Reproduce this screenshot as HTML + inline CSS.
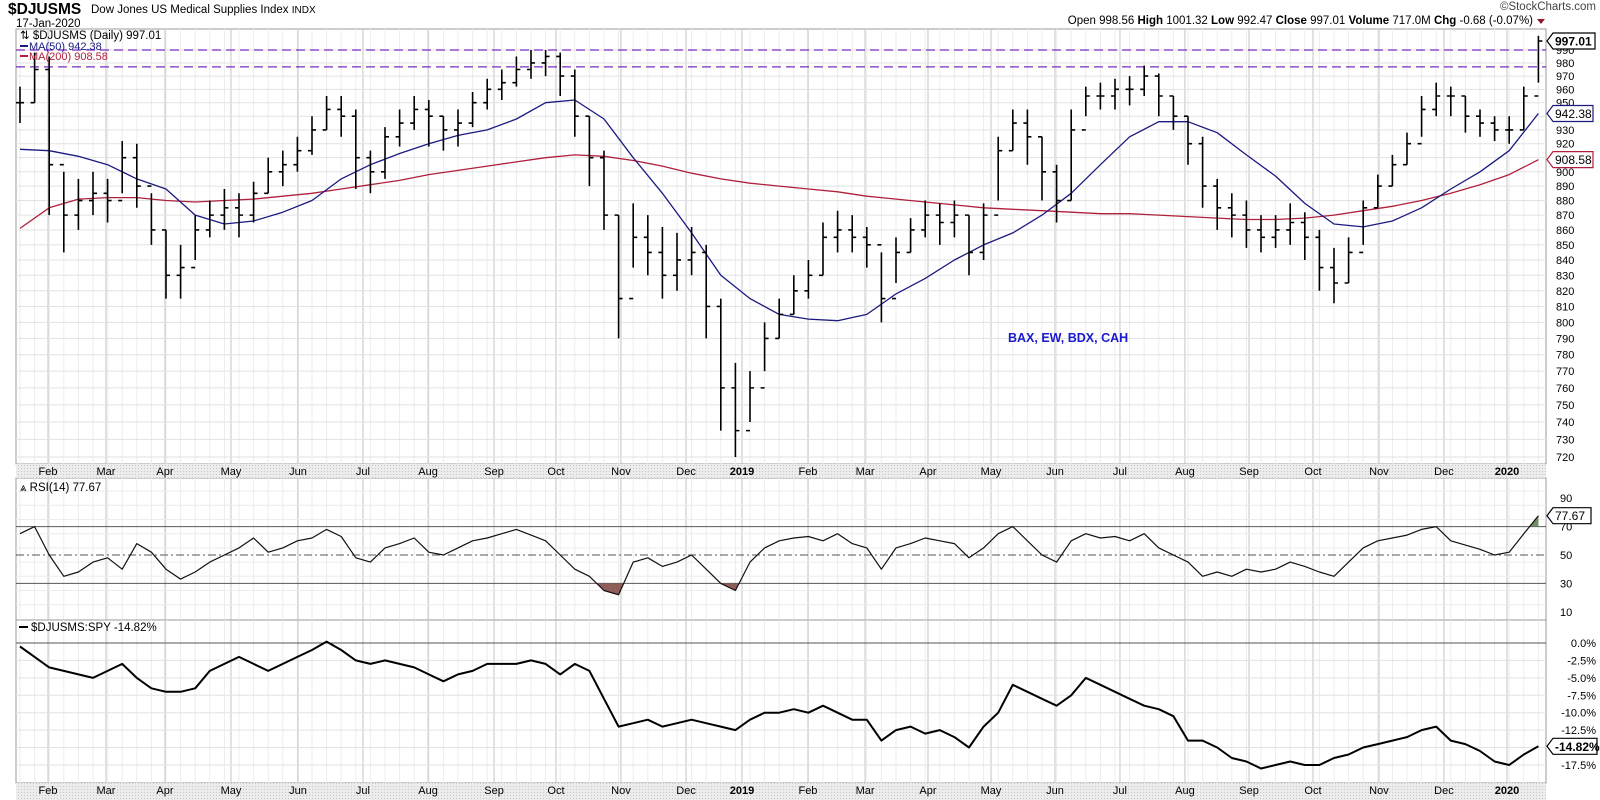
<!DOCTYPE html>
<html><head><meta charset="utf-8">
<style>
html,body{margin:0;padding:0;background:#fff;}
svg{display:block;font-family:"Liberation Sans",Arial,sans-serif;}
</style></head>
<body>
<svg id="chart" width="1600" height="800" viewBox="0 0 1600 800" xmlns="http://www.w3.org/2000/svg">
<defs>
<pattern id="hatch" width="3" height="3" patternUnits="userSpaceOnUse">
<rect width="3" height="3" fill="#ececec"/><rect width="1" height="1" fill="#c8c8c8"/>
</pattern>
</defs>
<text x="8" y="14" font-size="15.5" font-weight="bold">$DJUSMS</text>
<text x="91" y="13" font-size="11.5">Dow Jones US Medical Supplies Index <tspan font-size="10">INDX</tspan></text>
<text x="16" y="27" font-size="11.5">17-Jan-2020</text>
<text x="1596" y="10" font-size="11.5" fill="#444" text-anchor="end">©StockCharts.com</text>
<text x="1533" y="24" font-size="11.5" text-anchor="end">Open 998.56  <tspan font-weight="bold">High</tspan> 1001.32  <tspan font-weight="bold">Low</tspan> 992.47  <tspan font-weight="bold">Close</tspan> 997.01  <tspan font-weight="bold">Volume</tspan> 717.0M  <tspan font-weight="bold">Chg</tspan> -0.68 (-0.07%)</text>
<path d="M1537 19 L1545 19 L1541 24 Z" fill="#8b1a2b"/>
<g id="g"></g>
</svg>
<script>
const closes=[950,975,905,870,880,885,880,910,890,860,830,835,860,870,875,870,885,900,905,915,930,945,940,910,900,925,935,945,940,930,935,950,960,965,975,980,985,970,940,910,870,815,855,845,830,840,845,810,760,735,760,790,805,820,830,855,860,855,850,815,845,860,870,865,870,845,870,915,935,925,900,880,930,955,955,960,960,970,955,940,920,890,875,870,860,855,860,865,855,835,825,845,875,890,905,920,945,955,955,940,935,930,930,955,997];
const highs=[962,988,985,900,895,900,895,922,920,885,860,850,870,880,888,885,893,910,915,925,940,955,955,945,915,932,945,955,952,940,945,958,968,975,985,990,990,988,975,940,915,870,878,870,862,858,862,850,815,775,770,800,815,830,840,865,873,870,862,845,855,868,880,878,880,870,878,925,945,945,925,905,945,962,965,968,970,978,972,955,940,925,895,885,880,870,870,878,872,860,848,855,880,898,912,928,955,965,962,955,945,940,940,962,1001];
const lows=[935,950,870,845,860,870,865,885,875,850,815,815,840,855,860,855,865,885,890,900,912,930,925,888,885,895,918,930,918,915,918,932,945,952,962,968,970,955,925,890,860,790,835,830,815,820,830,790,735,720,740,770,790,805,815,830,845,845,835,800,825,845,855,850,855,830,840,880,915,905,880,865,880,940,945,945,948,955,940,930,905,875,860,855,848,845,848,850,840,820,812,825,850,875,890,905,925,940,940,928,925,922,920,930,965];
const ma50=[916,915,911,905,895,888,870,864,866,872,880,895,905,913,920,926,930,938,950,952,938,910,885,858,830,815,805,802,801,805,818,828,840,850,858,870,885,905,925,936,936,928,912,897,878,864,862,866,875,888,900,915,942];
const ma200=[861,875,881,882,882,880,879,880,881,883,885,888,891,894,898,901,904,907,910,912,911,908,904,899,895,892,890,888,886,883,881,879,877,875,874,873,872,871,871,870,869,868,867,867,868,870,873,876,880,885,891,898,908.6];
const rsi=[65,70,50,35,38,45,48,40,58,52,40,33,38,45,50,55,62,52,55,60,62,68,63,48,45,55,58,62,52,50,55,60,62,65,68,64,60,50,40,35,25,22,45,48,42,45,50,40,30,25,45,55,60,62,63,60,65,58,55,40,55,58,62,60,58,48,55,65,70,60,50,45,60,65,62,63,60,65,55,50,45,35,38,35,40,38,40,45,42,38,35,45,55,60,62,64,68,70,60,57,54,50,52,65,77.67];
const ratio=[-0.5,-2,-3.5,-4,-4.5,-5,-4,-3,-5,-6.5,-7,-7,-6.5,-4,-3,-2,-3,-4,-3,-2,-1,0.2,-1,-2.5,-3,-2.5,-3,-3.5,-4.5,-5.5,-4.5,-4,-3,-3,-3,-2.5,-3,-4.5,-3,-4,-8,-12,-11.5,-11,-12,-11.5,-11,-11.5,-12,-12.5,-11,-10,-10,-9.5,-10,-9,-10,-11,-11,-14,-12.5,-12,-13,-12.5,-13.5,-15,-12,-10,-6,-7,-8,-9,-7.5,-5,-6,-7,-8,-9,-9.5,-10.5,-14,-14,-15,-16.5,-17,-18,-17.5,-17,-17.5,-17.5,-16.5,-16,-15,-14.5,-14,-13.5,-12.5,-12,-14,-14.5,-15.5,-17,-17.5,-16,-14.82];
const monthLabels=["Feb","Mar","Apr","May","Jun","Jul","Aug","Sep","Oct","Nov","Dec","2019","Feb","Mar","Apr","May","Jun","Jul","Aug","Sep","Oct","Nov","Dec","2020"];
const monthPos=[1.92,5.89,9.93,14.45,19.04,23.49,27.95,32.47,36.71,41.16,45.62,49.45,53.97,57.88,62.19,66.51,70.89,75.34,79.79,84.18,88.56,93.08,97.53,101.85];
const priceTicks=[720,730,740,750,760,770,780,790,800,810,820,830,840,850,860,870,880,890,900,910,920,930,940,950,960,970,980,990];
const rsiTicks=[10,30,50,70,90];
const ratioTicks=[0,-2.5,-5,-7.5,-10,-12.5,-15,-17.5];
const resistance=[990,977];

const L=16,R=1546;
const P={top:29,bot:464}, RS={top:478,bot:620}, RA={top:620,bot:783};
const X=i=>20+14.6*i;
const Y=p=>50+1278*(Math.log(990)-Math.log(p));
const YR=v=>555-(v-50)*1.42;
const YQ=v=>643-v*6.97;
const NS="http://www.w3.org/2000/svg";
const g=document.getElementById('g');
function el(t,a,txt){const e=document.createElementNS(NS,t);for(const k in a)e.setAttribute(k,a[k]);if(txt!==undefined)e.textContent=txt;g.appendChild(e);return e;}

[[P,'price-panel'],[RS,'rsi-panel'],[RA,'ratio-panel']].forEach(([pn,nm])=>{
  const r=el('rect',{x:L,y:pn.top,width:R-L,height:pn.bot-pn.top,fill:'#fff',stroke:'#999'});
  
  
  for(let i=0;i<=104;i++){const x=X(i);const l=el('line',{x1:x,x2:x,y1:pn.top,y2:pn.bot,stroke:'#ececec'});
    }
  monthPos.forEach(m=>{const x=X(m);const l=el('line',{x1:x,x2:x,y1:pn.top,y2:pn.bot,stroke:'#c4c4c4'});
    });
});
[[P.bot,RS.top],[RA.bot,800]].forEach(([a,b],k)=>{
  const r=el('rect',{x:L,y:a,width:R-L,height:b-a,fill:'url(#hatch)'});
  
  monthLabels.forEach((m,j)=>{const t=el('text',{x:X(monthPos[j]),y:a+11,'font-size':11,'text-anchor':'middle','font-weight':(m.length==4?'bold':'normal')},m);
    });
});
priceTicks.forEach(p=>{const y=Y(p);
  const l=el('line',{x1:L,x2:R,y1:y,y2:y,stroke:'#e2e2e2'});
  const t=el('text',{x:1556,y:y+4,'font-size':11},p);});
resistance.forEach(p=>{const l=el('line',{x1:L,x2:R,y1:Y(p),y2:Y(p),stroke:'#7a2bc0','stroke-width':1.3,'stroke-dasharray':'9,5'});
  });
function poly(arr,xf,yf,col,w,nm){const d=arr.map((v,i)=>(i?'L':'M')+xf(i).toFixed(1)+' '+yf(v).toFixed(1)).join('');
  const e=el('path',{d:d,fill:'none',stroke:col,'stroke-width':w,'stroke-linejoin':'round'});return e;}
poly(ma200,i=>X(i*2),Y,'#b0203a',1.3,'ma200-line');
poly(ma50,i=>X(i*2),Y,'#1a1a80',1.3,'ma50-line');
closes.forEach((c,i)=>{const x=X(i);const o=i?closes[i-1]:c;
  const d=`M${x} ${Y(highs[i])}L${x} ${Y(lows[i])}M${x-4} ${Y(o)}L${x} ${Y(o)}M${x} ${Y(c)}L${x+4} ${Y(c)}`;
  const b=el('path',{d:d,stroke:'#000','stroke-width':1.6,fill:'none'});
  });
el('text',{x:20,y:39,'font-size':11.5},'⇅ $DJUSMS (Daily) 997.01');
el('line',{x1:20,x2:28,y1:46,y2:46,stroke:'#1a1a80','stroke-width':2});
el('text',{x:29,y:50,'font-size':11,fill:'#1a1a80'},'MA(50) 942.38');
el('line',{x1:20,x2:28,y1:56,y2:56,stroke:'#b0203a','stroke-width':2});
el('text',{x:29,y:60,'font-size':11,fill:'#b0203a'},'MA(200) 908.58');
el('text',{x:1008,y:342,'font-size':12.5,'font-weight':'bold',fill:'#1a1ad0'},'BAX, EW, BDX, CAH');
function tag(x,y,w,txt,col,bold,nm){
  const p=el('path',{d:`M${x} ${y} L${x+6} ${y-8} L${x+w} ${y-8} L${x+w} ${y+8} L${x+6} ${y+8} Z`,fill:'#fff',stroke:col,'stroke-width':1.2});
  
  const t=el('text',{x:x+8,y:y+4.5,'font-size':12,'font-weight':bold?'bold':'normal',fill:'#000'},txt);
  }
tag(1547,Y(closes[104]),48,'997.01','#000',true,'last-price-tag');
tag(1547,Y(ma50[ma50.length-1]),46,'942.38','#1a1a80',false,'ma50-tag');
tag(1547,Y(ma200[ma200.length-1]),46,'908.58','#b0203a',false,'ma200-tag');

[0,10,20,30,40,50,60,70,80,90,100].forEach(v=>{if(v<5||v>97)return;const l=el('line',{x1:L,x2:R,y1:YR(v+5),y2:YR(v+5),stroke:'#ececec'});});
rsiTicks.forEach(v=>{const t=el('text',{x:1560,y:YR(v)+4,'font-size':11},v);});
[[70,''],[30,''],[50,'8,3,2,3']].forEach(([v,da])=>{const l=el('line',{x1:L,x2:R,y1:YR(v),y2:YR(v),stroke:'#555','stroke-dasharray':da});});
function band(th,above,col,nm){
  const cid='c'+nm;const cp=document.createElementNS(NS,'clipPath');cp.setAttribute('id',cid);
  const rr=document.createElementNS(NS,'rect');
  if(above){rr.setAttribute('x',L);rr.setAttribute('y',RS.top);rr.setAttribute('width',R-L);rr.setAttribute('height',YR(th)-RS.top);}
  else{rr.setAttribute('x',L);rr.setAttribute('y',YR(th));rr.setAttribute('width',R-L);rr.setAttribute('height',RS.bot-YR(th));}
  cp.appendChild(rr);g.appendChild(cp);
  const d='M'+X(0)+' '+YR(th)+rsi.map((v,i)=>'L'+X(i)+' '+YR(v)).join('')+'L'+X(104)+' '+YR(th)+'Z';
  const p=el('path',{d:d,fill:col,'clip-path':`url(#${cid})`});}
band(70,true,'#6e9163','rsi-overbought-fill');
band(30,false,'#8f5e58','rsi-oversold-fill');
poly(rsi,X,YR,'#111',1.2,'rsi-line');
el('text',{x:20,y:491,'font-size':11.5},'⩓ RSI(14) 77.67');
tag(1547,YR(rsi[104]),44,'77.67','#000',false,'rsi-tag');

ratioTicks.forEach(v=>{const y=YQ(v);const l=el('line',{x1:L,x2:R,y1:y,y2:y,stroke:v==0?'#555':'#e2e2e2'});
  
  const t=el('text',{x:1596,y:y+4,'font-size':11,'text-anchor':'end'},v.toFixed(1)+'%');});
poly(ratio,X,YQ,'#000',2,'ratio-line');
el('rect',{x:18,y:621,width:142,height:10,fill:'#fff'});
el('line',{x1:19,x2:28,y1:627,y2:627,stroke:'#000','stroke-width':2});
el('text',{x:31,y:631,'font-size':11.5},'$DJUSMS:SPY -14.82%');
tag(1547,YQ(ratio[104]),50,'-14.82%','#000',true,'ratio-tag');
</script>
</body></html>
